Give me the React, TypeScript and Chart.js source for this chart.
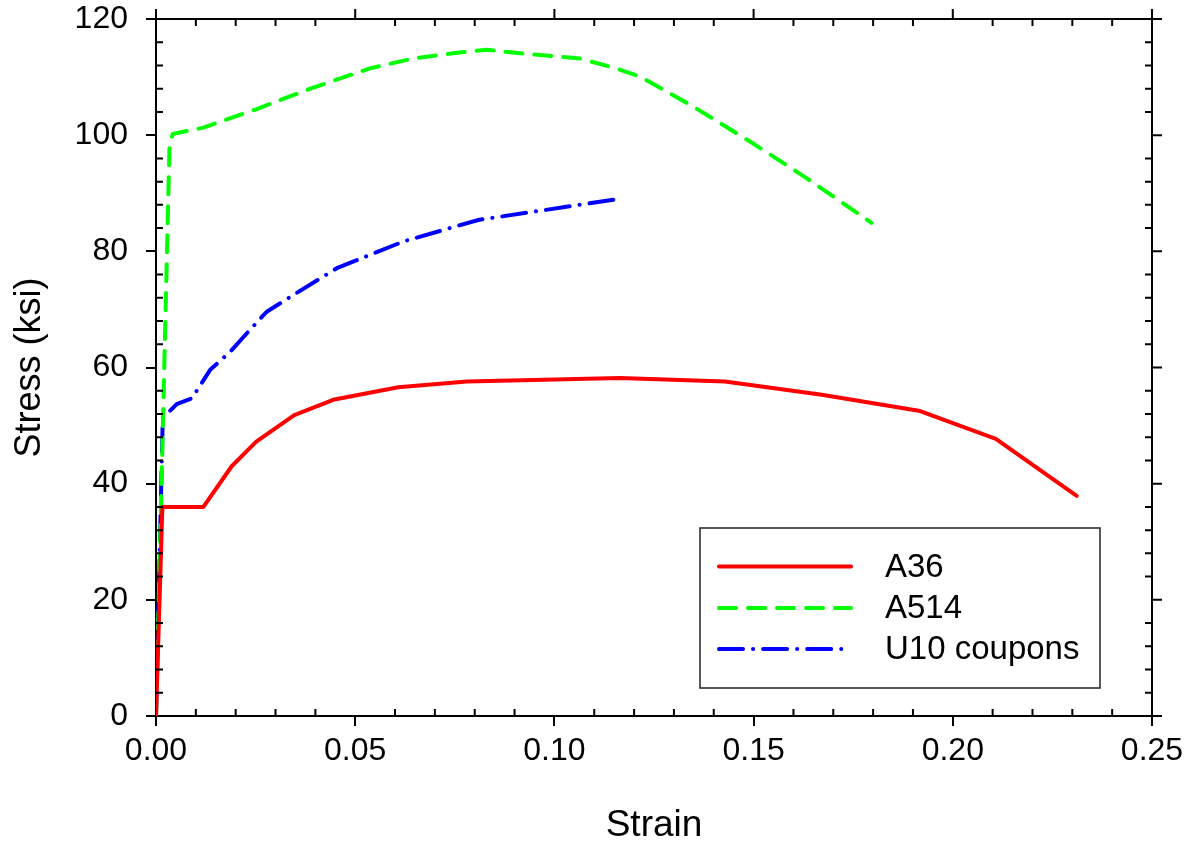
import React, { useEffect, useRef } from "react";
import { Chart, registerables } from "chart.js";

Chart.register(...registerables);

const strainA36 = [0, 0.0016, 0.0119, 0.019, 0.0251, 0.0347, 0.0448, 0.0608, 0.078, 0.1165, 0.1428, 0.1671, 0.1918, 0.2108, 0.2311];
const stressA36 = [0, 36.0, 36.0, 43.0, 47.2, 51.8, 54.5, 56.6, 57.6, 58.2, 57.6, 55.3, 52.5, 47.7, 37.9];

const strainA514 = [0, 0.0034, 0.0042, 0.0119, 0.0253, 0.0395, 0.0537, 0.0646, 0.0746, 0.083, 0.0914, 0.1064, 0.115, 0.1215, 0.1349, 0.1491, 0.1633, 0.1796];
const stressA514 = [0, 98.5, 100.2, 101.3, 104.5, 108.2, 111.5, 113.2, 114.1, 114.7, 114.1, 113.2, 111.6, 110.1, 104.9, 98.9, 92.6, 84.9];

const strainU10 = [0, 0.0017, 0.0039, 0.0052, 0.009, 0.0136, 0.0186, 0.0236, 0.0278, 0.0345, 0.0454, 0.0621, 0.0809, 0.116];
const stressU10 = [0, 51.4, 52.8, 53.7, 54.7, 59.6, 62.7, 66.5, 69.6, 72.5, 77.1, 81.7, 85.4, 89.0];

const seriesLabels = ["A36", "A514", "U10 coupons"];
const xTitle = "Strain";
const yTitle = "Stress (ksi)";

const FONT = "'Liberation Sans', Arial, Helvetica, sans-serif";

const toPoints = (xs: number[], ys: number[]) => xs.map((x, i) => ({ x, y: ys[i] }));

const framePlugin = {
  id: "frameTicks",
  afterDraw(chart: any) {
    const { ctx, chartArea: a, scales } = chart;
    const xs = scales.x;
    const ys = scales.y;
    ctx.save();
    ctx.strokeStyle = "#000";
    ctx.lineWidth = 2;
    ctx.lineCap = "butt";
    ctx.beginPath();
    ctx.moveTo(a.left - 10, a.top);
    ctx.lineTo(a.right, a.top);
    ctx.moveTo(a.right, a.top);
    ctx.lineTo(a.right, a.bottom);
    ctx.stroke();
    const major = 10;
    const minor = 7;
    ctx.beginPath();
    for (let i = 0; i <= 25; i++) {
      const v = i / 100;
      const px = xs.getPixelForValue(v);
      if (i % 5 === 0) {
        ctx.moveTo(px, a.top);
        ctx.lineTo(px, a.top - major);
      } else {
        ctx.moveTo(px, a.bottom);
        ctx.lineTo(px, a.bottom - minor);
        ctx.moveTo(px, a.top);
        ctx.lineTo(px, a.top + minor);
      }
    }
    for (let v = 0; v <= 120; v += 4) {
      const py = ys.getPixelForValue(v);
      if (v % 20 === 0) {
        ctx.moveTo(a.right, py);
        ctx.lineTo(a.right + major, py);
      } else {
        ctx.moveTo(a.left, py);
        ctx.lineTo(a.left + minor, py);
        ctx.moveTo(a.right, py);
        ctx.lineTo(a.right - minor, py);
      }
    }
    ctx.stroke();

    // legend
    const bx = 700, by = 528, bw = 400, bh = 160;
    ctx.lineWidth = 1.5;
    ctx.strokeStyle = "#222";
    ctx.strokeRect(bx, by, bw, bh);
    const rowsY = [566.5, 608, 649];
    chart.data.datasets.forEach((ds: any, i: number) => {
      ctx.save();
      ctx.strokeStyle = ds.borderColor;
      ctx.lineWidth = ds.borderWidth;
      ctx.lineCap = ds.borderCapStyle || "butt";
      ctx.setLineDash(ds.borderDash || []);
      ctx.beginPath();
      ctx.moveTo(719, rowsY[i]);
      ctx.lineTo(851, rowsY[i]);
      ctx.stroke();
      ctx.restore();
      ctx.fillStyle = "#000";
      ctx.font = `33px ${FONT}`;
      ctx.textBaseline = "middle";
      ctx.textAlign = "left";
      ctx.fillText(ds.label, 885, rowsY[i] + 1);
    });
    ctx.restore();
  },
};

export default function App() {
  const ref = useRef<HTMLCanvasElement | null>(null);
  useEffect(() => {
    if (!ref.current) return;
    const chart = new Chart(ref.current, {
      type: "scatter",
      data: {
        datasets: [
          {
            label: seriesLabels[0],
            data: toPoints(strainA36, stressA36),
            showLine: true,
            borderColor: "#ff0000",
            backgroundColor: "#ff0000",
            borderWidth: 4,
            pointRadius: 0,
            borderCapStyle: "round",
            borderJoinStyle: "round",
          },
          {
            label: seriesLabels[1],
            data: toPoints(strainA514, stressA514),
            showLine: true,
            borderColor: "#00ff00",
            backgroundColor: "#00ff00",
            borderWidth: 4,
            pointRadius: 0,
            borderDash: [17, 12],
            borderCapStyle: "round",
            borderJoinStyle: "round",
          },
          {
            label: seriesLabels[2],
            data: toPoints(strainU10, stressU10),
            showLine: true,
            borderColor: "#0000ff",
            backgroundColor: "#0000ff",
            borderWidth: 4,
            pointRadius: 0,
            borderDash: [24, 10, 0.1, 10],
            borderCapStyle: "round",
            borderJoinStyle: "round",
          },
        ],
      },
      options: {
        animation: false,
        responsive: true,
        maintainAspectRatio: false,
        layout: { padding: { top: 19, right: 41, left: 0, bottom: 0 } },
        plugins: { legend: { display: false }, tooltip: { enabled: false } },
        scales: {
          x: {
            type: "linear",
            min: 0,
            max: 0.25,
            afterFit: (s: any) => { s.height = 133; s.paddingLeft = 0; s.paddingRight = 0; },
            ticks: {
              stepSize: 0.05,
              color: "#000",
              padding: 6,
              font: { family: FONT, size: 32 },
              callback: (v: any) => Number(v).toFixed(2),
              maxRotation: 0,
            },
            grid: { drawOnChartArea: false, drawTicks: true, tickLength: 10, color: "#000", lineWidth: 2 },
            border: { display: true, color: "#000", width: 2 },
            title: { display: true, text: xTitle, color: "#000", font: { family: FONT, size: 37, lineHeight: 1 }, padding: { top: 5, bottom: 5 } },
          },
          y: {
            type: "linear",
            min: 0,
            max: 120,
            afterFit: (s: any) => { s.width = 156; s.paddingTop = 0; s.paddingBottom = 0; },
            ticks: {
              stepSize: 20,
              color: "#000",
              padding: 18,
              font: { family: FONT, size: 32 },
            },
            grid: { drawOnChartArea: false, drawTicks: true, tickLength: 10, color: "#000", lineWidth: 2 },
            border: { display: true, color: "#000", width: 2 },
            title: { display: true, text: yTitle, color: "#000", font: { family: FONT, size: 36, lineHeight: 1 }, padding: { top: 12, bottom: 12 } },
          },
        },
      },
      plugins: [framePlugin],
    } as any);
    return () => chart.destroy();
  }, []);
  return (
    <div style={{ position: "fixed", left: 0, top: 0, width: 1193, height: 849, background: "#fff" }}>
      <canvas ref={ref} />
    </div>
  );
}
